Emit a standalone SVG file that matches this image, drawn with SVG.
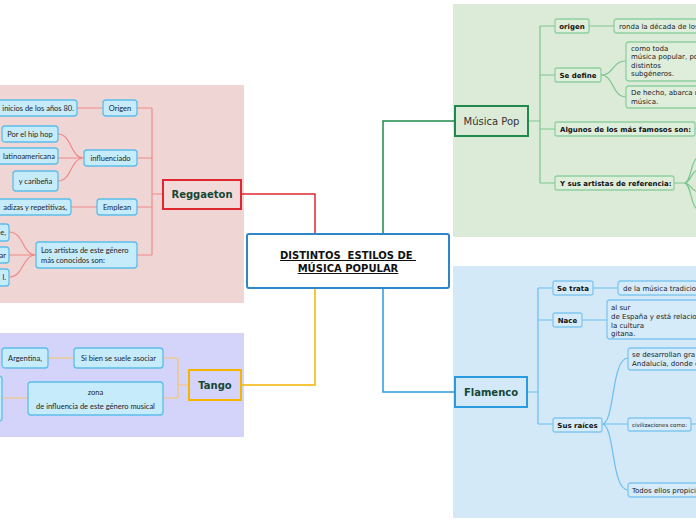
<svg xmlns="http://www.w3.org/2000/svg" width="696" height="520" viewBox="0 0 696 520">
<style>
.t{font-family:"Lato","Liberation Sans",sans-serif;font-size:7.5px;fill:#1e1e1e}
.v{font-family:"DejaVu Sans","Liberation Sans",sans-serif;font-size:7px;fill:#222}
.vb{font-family:"DejaVu Sans","Liberation Sans",sans-serif;font-size:7px;font-weight:bold;fill:#111}
.main{font-family:"DejaVu Sans","Liberation Sans",sans-serif;font-size:10px;font-weight:bold;fill:#154734}
.lb{fill:#c6ebfb;stroke:#5cbde9;stroke-width:1.3}
.gb{fill:#dfeddb;stroke:#8fd0a0;stroke-width:1.3}
.bb{fill:#d5ebf9;stroke:#80c6f0;stroke-width:1.3}
.cr{fill:none;stroke:#f08a8a;stroke-width:1.2}
.co{fill:none;stroke:#f7c46a;stroke-width:1.2}
.cg{fill:none;stroke:#7cc590;stroke-width:1.2}
.cb{fill:none;stroke:#6dbdf0;stroke-width:1.2}
</style>
<rect width="696" height="520" fill="#ffffff"/>
<rect x="0" y="85" width="244" height="218" fill="#f0d5d5"/>
<rect x="0" y="333" width="244" height="104" fill="#d4d4fb"/>
<rect x="453" y="4" width="243" height="233" fill="#dcebd8"/>
<rect x="453" y="266" width="243" height="252" fill="#d3e9f8"/>

<g id="connectors">
<path d="M241,194 H315 V234" fill="none" stroke="#e0262f" stroke-width="1.5"/>
<path d="M383,234 V121 H455" fill="none" stroke="#1f8a4c" stroke-width="1.5"/>
<path d="M315,288 V385 H242" fill="none" stroke="#f5b400" stroke-width="1.5"/>
<path d="M383,288 V392 H455" fill="none" stroke="#2b9be0" stroke-width="1.5"/>

<path class="cr" d="M163,194 H152 M152,108 V255 M137,108 H152 M137,158 H152 M137,207 H152 M137,255 H152"/>
<path class="cr" d="M77,108 H103 M71,207 H97"/>
<path class="cr" d="M84,158 C70,158 72,134 58,134 M84,158 H58 M84,158 C70,158 72,181 58,181"/>
<path class="cr" d="M36,255 C22,255 24,232 9,232 M36,255 H9 M36,255 C22,255 24,277 9,277"/>

<path class="co" d="M189,385 H178 M178,358 V398 M163,358 H178 M163,398 H178 M48,358 H74 M2,398 H28"/>

<path class="cg" d="M529,121 H540 M540,26 V183 M540,26 H555 M540,75 H555 M540,129 H555 M540,183 H555 M589,26 H614 M695,129 H700"/>
<path class="cg" d="M601,75 C614,75 612,61 626,61 M601,75 C614,75 612,97 626,97"/>
<path class="cg" d="M674,183 H684 C692,183 690,157 700,157 M684,183 C692,183 690,170 700,170 M684,183 C692,183 690,192 700,192 M684,183 C692,183 690,210 700,210"/>

<path class="cb" d="M527,392 H538 M538,288 V424 M538,288 H553 M538,320 H553 M538,424 H553 M593,288 H618 M582,320 H607 M691,424 H700"/>
<path class="cb" d="M602,424 C615,424 611,358 628,358 M602,424 H628 M602,424 C615,424 611,490 628,490"/>
</g>

<g id="center">
<rect x="247" y="234" width="202" height="54" rx="2" fill="#ffffff" stroke="#2e86c8" stroke-width="2"/>
<text x="348" y="259" text-anchor="middle" xml:space="preserve" style="white-space:pre" font-family="DejaVu Sans, Liberation Sans, sans-serif" font-size="10" font-weight="bold" fill="#111" text-decoration="underline">DISTINTOS  ESTILOS DE </text>
<text x="348" y="272" text-anchor="middle" font-family="DejaVu Sans, Liberation Sans, sans-serif" font-size="10" font-weight="bold" fill="#111" text-decoration="underline">MÚSICA POPULAR</text>
</g>

<g id="reggaeton">
<rect x="163" y="180" width="78" height="29" fill="#f3dada" stroke="#e0262f" stroke-width="2"/>
<text class="main" x="202" y="198" text-anchor="middle">Reggaeton</text>
</g>
<g id="r-origen"><rect class="lb" x="103" y="100" width="34" height="16" rx="3"/><text class="t" x="120" y="110.5" text-anchor="middle">Origen</text></g>
<g id="r-origen-1"><rect class="lb" x="-10" y="100" width="87" height="16" rx="3"/><text class="t" x="74" y="110.5" text-anchor="end">inicios de los años 80.</text></g>
<g id="r-influenciado"><rect class="lb" x="84" y="150" width="53" height="16" rx="3"/><text class="t" x="110.5" y="160.5" text-anchor="middle">influenciado</text></g>
<g id="r-inf-1"><rect class="lb" x="2" y="126" width="56" height="16" rx="3"/><text class="t" x="30" y="136.5" text-anchor="middle">Por el hip hop</text></g>
<g id="r-inf-2"><rect class="lb" x="-10" y="148" width="68" height="16" rx="3"/><text class="t" x="55" y="158.5" text-anchor="end">latinoamericana</text></g>
<g id="r-inf-3"><rect class="lb" x="13" y="171" width="45" height="20" rx="3"/><text class="t" x="35.5" y="183.5" text-anchor="middle">y caribeña</text></g>
<g id="r-emplean"><rect class="lb" x="97" y="199" width="40" height="16" rx="3"/><text class="t" x="117" y="209.5" text-anchor="middle">Emplean</text></g>
<g id="r-emp-1"><rect class="lb" x="-10" y="199" width="81" height="16" rx="3"/><text class="t" x="67" y="209.5" text-anchor="end">adizas y repetitivas,</text></g>
<g id="r-artistas"><rect class="lb" x="36" y="242" width="101" height="26" rx="3"/><text class="t" x="41" y="253">Los artistas de este género</text><text class="t" x="41" y="263">más conocidos son:</text></g>
<g id="r-art-1"><rect class="lb" x="-10" y="224" width="19" height="17" rx="3"/><text class="t" x="6" y="235" text-anchor="end">e,</text></g>
<g id="r-art-2"><rect class="lb" x="-10" y="247" width="19" height="16" rx="3"/><text class="t" x="6" y="257.5" text-anchor="end">ar</text></g>
<g id="r-art-3"><rect class="lb" x="-10" y="269" width="19" height="17" rx="3"/><text class="t" x="6" y="280" text-anchor="end">l.</text></g>

<g id="tango">
<rect x="189" y="370" width="52" height="30" fill="#d4d4fb" stroke="#f5b400" stroke-width="2"/>
<text class="main" x="215" y="389" text-anchor="middle">Tango</text>
</g>
<g id="t-sibien"><rect class="lb" x="74" y="348" width="89" height="20" rx="3"/><text class="t" x="118.5" y="360.5" text-anchor="middle">Si bien se suele asociar</text></g>
<g id="t-argentina"><rect class="lb" x="2" y="348" width="46" height="20" rx="3"/><text class="t" x="25" y="360.5" text-anchor="middle">Argentina,</text></g>
<g id="t-zona"><rect class="lb" x="28" y="382" width="135" height="33" rx="3"/><text class="t" x="95.5" y="395" text-anchor="middle">zona</text><text class="t" x="95.5" y="409" text-anchor="middle">de influencia de este género musical</text></g>
<g id="t-zona-1"><rect class="lb" x="-50" y="376" width="52" height="45" rx="3"/></g>

<g id="pop">
<rect x="455" y="106" width="73" height="30" fill="#dcebd8" stroke="#1f8a4c" stroke-width="2"/>
<text x="491.5" y="125" text-anchor="middle" font-family="DejaVu Sans, Liberation Sans, sans-serif" font-size="10" fill="#333">Música Pop</text>
</g>
<g id="p-origen"><rect class="gb" x="555" y="19" width="34" height="14" rx="2"/><text class="vb" x="572" y="28.5" text-anchor="middle">origen</text></g>
<g id="p-origen-1"><rect class="gb" x="614" y="19" width="100" height="14" rx="3"/><text class="v" x="619" y="28.5">ronda la década de los</text></g>
<g id="p-define"><rect class="gb" x="555" y="68" width="46" height="14" rx="2"/><text class="vb" x="578" y="77.5" text-anchor="middle">Se define</text></g>
<g id="p-define-1"><rect class="gb" x="626" y="42" width="90" height="39" rx="3"/><text class="v" x="631" y="50.5">como toda</text><text class="v" x="631" y="59">música popular, po</text><text class="v" x="631" y="67.5">distintos</text><text class="v" x="631" y="76">subgéneros.</text></g>
<g id="p-define-2"><rect class="gb" x="626" y="86" width="90" height="22" rx="3"/><text class="v" x="631" y="95">De hecho, abarca m</text><text class="v" x="631" y="104">música.</text></g>
<g id="p-famosos"><rect class="gb" x="555" y="122" width="140" height="14" rx="2"/><text class="vb" x="560" y="131.5">Algunos de los más famosos son:</text></g>
<g id="p-artistas"><rect class="gb" x="555" y="176" width="119" height="14" rx="2"/><text class="vb" x="560" y="185.5">Y sus artistas de referencia:</text></g>

<g id="flamenco">
<rect x="455" y="377" width="72" height="30" fill="#d3e9f8" stroke="#2b9be0" stroke-width="2"/>
<text class="main" x="491" y="396" text-anchor="middle">Flamenco</text>
</g>
<g id="f-setrata"><rect class="bb" x="553" y="281" width="40" height="14" rx="2"/><text class="vb" x="573" y="290.5" text-anchor="middle">Se trata</text></g>
<g id="f-setrata-1"><rect class="bb" x="618" y="281" width="100" height="14" rx="3"/><text class="v" x="623" y="290.5">de la música tradicio</text></g>
<g id="f-nace"><rect class="bb" x="553" y="313" width="29" height="14" rx="2"/><text class="vb" x="567.5" y="322.5" text-anchor="middle">Nace</text></g>
<g id="f-nace-1"><rect class="bb" x="607" y="300" width="110" height="39" rx="3"/><text class="v" x="611" y="310">al sur</text><text class="v" x="611" y="319">de España y está relacio</text><text class="v" x="611" y="327.5">la cultura</text><text class="v" x="611" y="336">gitana.</text></g>
<g id="f-raices"><rect class="bb" x="553" y="418" width="49" height="14" rx="2"/><text class="vb" x="577.5" y="427.5" text-anchor="middle">Sus raíces</text></g>
<g id="f-raices-1"><rect class="bb" x="628" y="348" width="90" height="22" rx="3"/><text class="v" x="632" y="357">se desarrollan gra</text><text class="v" x="632" y="366">Andalucía, donde c</text></g>
<g id="f-raices-2"><rect class="bb" x="628" y="418" width="63" height="13" rx="2"/><text class="v" x="632" y="427" style="font-size:5.5px">civilizaciones como:</text></g>
<g id="f-raices-3"><rect class="bb" x="628" y="483" width="90" height="14" rx="3"/><text class="v" x="632" y="492.5">Todos ellos propici</text></g>
</svg>
